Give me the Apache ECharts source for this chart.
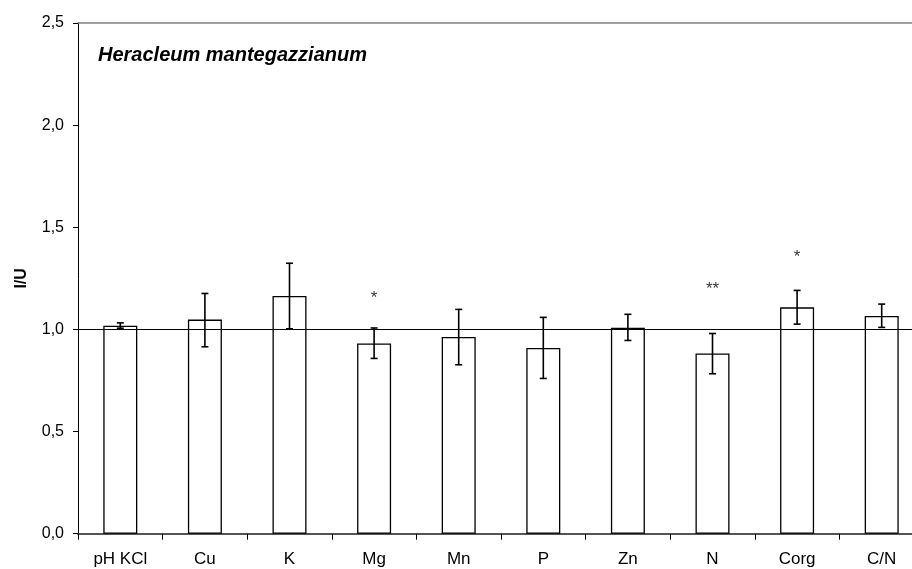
<!DOCTYPE html>
<html>
<head>
<meta charset="utf-8">
<script src="https://cdn.jsdelivr.net/npm/echarts@6/dist/echarts.min.js"></script>
<style>
html,body{margin:0;padding:0;background:#fff;}
#chart{width:912px;height:569px;}
</style>
</head>
<body>
<div id="chart"></div>
<script>
const categories = ['pH KCl', 'Cu', 'K', 'Mg', 'Mn', 'P', 'Zn', 'N', 'Corg', 'C/N'];
const values     = [1.018, 1.048, 1.164, 0.931, 0.963, 0.909, 1.008, 0.882, 1.108, 1.066];
const errLow     = [1.006, 0.915, 1.003, 0.858, 0.827, 0.760, 0.946, 0.783, 1.026, 1.010];
const errHigh    = [1.032, 1.176, 1.324, 1.007, 1.098, 1.059, 1.074, 0.980, 1.191, 1.124];
const signif     = ['', '', '', '*', '', '', '', '**', '*', ''];
const signifY    = [null, null, null, 1.174, null, null, null, 1.216, 1.371, null];
const yTicks     = [0, 0.5, 1.0, 1.5, 2.0, 2.5];
const refValue   = 1.0;

const FONT = '"Liberation Sans", Arial, sans-serif';
const chart = echarts.init(document.getElementById('chart'), null, {renderer: 'canvas'});

const errData = categories.map((c, i) => [i, errLow[i], errHigh[i]]);
const starData = categories.map((c, i) => signif[i] ? {value: [i, signifY[i]], label: {formatter: signif[i]}} : null).filter(Boolean);

chart.setOption({
  animation: false,
  backgroundColor: '#fff',
  title: {
    text: 'Heracleum mantegazzianum',
    left: 93, top: 40,
    textStyle: {fontFamily: FONT, fontSize: 20, fontWeight: 'bold', fontStyle: 'italic', color: '#000'}
  },
  grid: {left: 78, top: 23, width: 846, height: 510.7, containLabel: false, outerBoundsMode: 'none'},
  xAxis: [{
    type: 'category',
    data: categories,
    boundaryGap: true,
    axisLine: {lineStyle: {color: '#555', width: 2}},
    axisTick: {show: true, length: 6, inside: false, lineStyle: {color: '#000', width: 1}},
    axisLabel: {fontFamily: FONT, fontSize: 17, color: '#000', margin: 17, interval: 0}
  }, {
    type: 'category',
    data: categories,
    position: 'top',
    axisLine: {lineStyle: {color: '#808080', width: 1.5}},
    axisTick: {show: false},
    axisLabel: {show: false}
  }],
  yAxis: {
    type: 'value',
    min: yTicks[0], max: yTicks[yTicks.length - 1], interval: 0.5,
    name: 'I/U',
    nameLocation: 'middle',
    nameGap: 48,
    nameRotate: 90,
    nameTextStyle: {fontFamily: FONT, fontSize: 16, fontWeight: 'bold', color: '#000'},
    axisLine: {show: true, lineStyle: {color: '#000', width: 1}},
    axisTick: {show: true, length: 5, lineStyle: {color: '#000', width: 1}},
    splitLine: {show: false},
    axisLabel: {fontFamily: FONT, fontSize: 16, color: '#000', margin: 14,
      formatter: v => v.toFixed(1).replace('.', ',')}
  },
  series: [{
    type: 'bar',
    data: values,
    barWidth: 34,
    itemStyle: {color: '#fff', borderColor: '#000', borderWidth: 1.3},
    z: 2
  }, {
    type: 'custom',
    data: errData,
    z: 5,
    renderItem: function (params, api) {
      const x = api.value(0);
      const lo = api.coord([x, api.value(1)]);
      const hi = api.coord([x, api.value(2)]);
      const hw = 3.5;
      const st = {stroke: '#000', lineWidth: 1.6};
      return {type: 'group', children: [
        {type: 'line', shape: {x1: lo[0], y1: lo[1], x2: hi[0], y2: hi[1]}, style: st},
        {type: 'line', shape: {x1: lo[0] - hw, y1: lo[1], x2: lo[0] + hw, y2: lo[1]}, style: st},
        {type: 'line', shape: {x1: hi[0] - hw, y1: hi[1], x2: hi[0] + hw, y2: hi[1]}, style: st}
      ]};
    },
    markLine: {
      silent: true,
      symbol: 'none',
      label: {show: false},
      lineStyle: {color: '#000', type: 'solid', width: 1.2},
      data: [{yAxis: refValue}]
    }
  }, {
    type: 'scatter',
    data: starData,
    symbolSize: 0,
    z: 6,
    label: {show: true, position: 'inside', fontFamily: FONT, fontSize: 17, color: '#000', verticalAlign: 'middle', offset: [0, 4]}
  }]
});
</script>
</body>
</html>
